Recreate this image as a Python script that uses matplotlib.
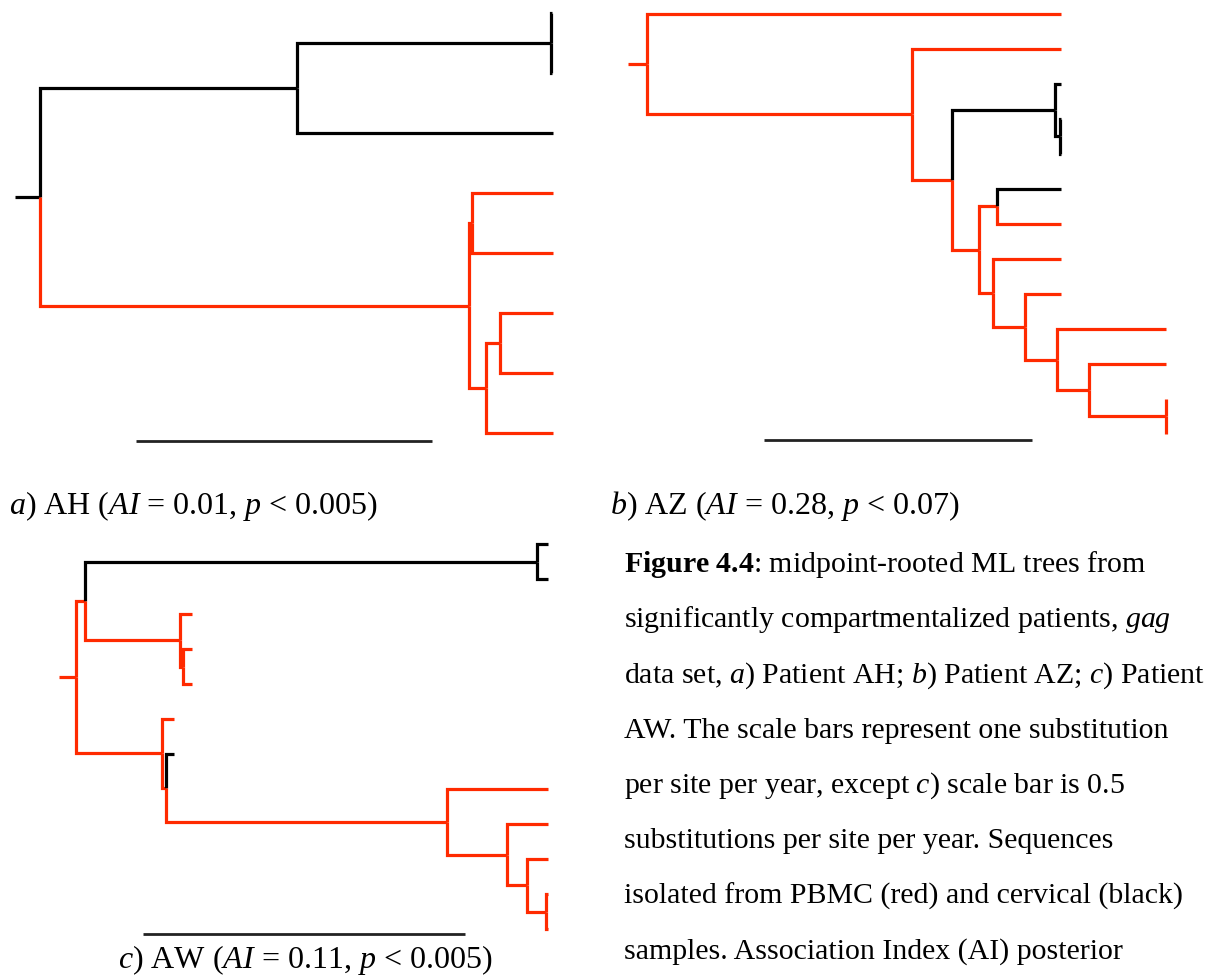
import matplotlib
matplotlib.use("Agg")
import matplotlib.pyplot as plt

# ---------------------------------------------------------------------------
# Data: midpoint-rooted ML trees (Newick). Labels: P = PBMC, C = cervical.
# Branch lengths in substitutions per site per year.
# ---------------------------------------------------------------------------
TREE_AH = ("(((C:0.005,C:0.005)C:0.858,C:0.865)C:0.868,"
           "((P:0.274,P:0.274)P:0.010,((P:0.179,P:0.179)P:0.047,P:0.226)P:0.057)P:1.449)C:0.084;")

TREE_AZ = ("(P:1.545,(P:0.556,((C:0.022,(C:0.004,C:0.004)C:0.019)C:0.384,"
           "((C:0.239,P:0.239)P:0.067,(P:0.254,(P:0.134,(P:0.407,(P:0.287,"
           "(P:0.003,P:0.003)P:0.287)P:0.119)P:0.119)P:0.119)P:0.052)P:0.101)P:0.149)P:0.989)P:0.071;")

TREE_AW = ("(((C:0.016,C:0.016)C:0.703,(P:0.019,(P:0.014,P:0.014)P:0.005)P:0.148)P:0.014,"
           "(P:0.019,(C:0.012,(P:0.157,(P:0.064,(P:0.033,(P:0.003,P:0.003)P:0.030)P:0.031)"
           "P:0.093)P:0.436)P:0.006)P:0.134)P:0.026;")

SCALE_BARS = [1.0, 1.0, 0.5]   # substitutions per site per year

LABELS = [r"$\it{a}$) AH ($\it{AI}$ = 0.01, $\it{p}$ < 0.005)",
          r"$\it{b}$) AZ ($\it{AI}$ = 0.28, $\it{p}$ < 0.07)",
          r"$\it{c}$) AW ($\it{AI}$ = 0.11, $\it{p}$ < 0.005)"]

CAPTION = [r"$\bf{Figure\ 4.4}$: midpoint-rooted ML trees from",
           r"significantly compartmentalized patients, $\it{gag}$",
           r"data set, $\it{a}$) Patient AH; $\it{b}$) Patient AZ; $\it{c}$) Patient",
           r"AW. The scale bars represent one substitution",
           r"per site per year, except $\it{c}$) scale bar is 0.5",
           r"substitutions per site per year. Sequences",
           r"isolated from PBMC (red) and cervical (black)",
           r"samples. Association Index (AI) posterior"]

COLORS = {"P": "#ff2a00", "C": "#000000"}

# ---------------------------------------------------------------------------
plt.rcParams["font.family"] = ["Liberation Serif", "DejaVu Serif"]
plt.rcParams["mathtext.fontset"] = "custom"
plt.rcParams["mathtext.rm"] = "Liberation Serif"
plt.rcParams["mathtext.it"] = "Liberation Serif:italic"
plt.rcParams["mathtext.bf"] = "Liberation Serif:bold"

W, H = 1214, 975
fig = plt.figure(figsize=(W / 100, H / 100), dpi=100)
fig.patch.set_facecolor("white")


def parse_newick(s):
    s = s.strip().rstrip(";")
    pos = 0

    def node():
        nonlocal pos
        children = []
        if s[pos] == "(":
            pos += 1
            while True:
                children.append(node())
                if s[pos] == ",":
                    pos += 1
                    continue
                if s[pos] == ")":
                    pos += 1
                    break
        start = pos
        while pos < len(s) and s[pos] not in ":,()":
            pos += 1
        label = s[start:pos].strip()
        length = 0.0
        if pos < len(s) and s[pos] == ":":
            pos += 1
            start = pos
            while pos < len(s) and s[pos] not in ",()":
                pos += 1
            length = float(s[start:pos])
        return {"label": label, "length": length, "children": children}

    return node()


def layout(tree):
    counter = [0]

    def walk(n, x0):
        n["x"] = x0 + n["length"]
        if n["children"]:
            for c in n["children"]:
                walk(c, n["x"])
            n["y"] = 0.5 * (n["children"][0]["y"] + n["children"][-1]["y"])
        else:
            n["y"] = counter[0]
            counter[0] += 1

    walk(tree, 0.0)
    return counter[0]


LW = 2.3


def draw_tree(ax, tree):
    ax.plot([0, tree["x"]], [tree["y"]] * 2, color=COLORS[tree["label"]], lw=LW,
            solid_capstyle="butt", solid_joinstyle="miter", clip_on=False)

    def walk(n):
        for c in n["children"]:
            ax.plot([n["x"], n["x"], c["x"]], [n["y"], c["y"], c["y"]],
                    color=COLORS[c["label"]], lw=LW, solid_capstyle="butt",
                    solid_joinstyle="miter", clip_on=False)
            walk(c)

    walk(tree)


# panel geometry in pixels: root-stub x, pixels per unit, first / last tip y,
# scale-bar start x and y
PANELS = [
    dict(tree=TREE_AH, x0=15, ppu=296, ytop=13, ybot=433, bar_x=136, bar_y=441),
    dict(tree=TREE_AZ, x0=628, ppu=268, ytop=14, ybot=434, bar_x=764, bar_y=440),
    dict(tree=TREE_AW, x0=59, ppu=644, ytop=544, ybot=929, bar_x=143, bar_y=934),
]

for p, bar in zip(PANELS, SCALE_BARS):
    t = parse_newick(p["tree"])
    n = layout(t)
    width_px = 560
    ax = fig.add_axes([p["x0"] / W, 1 - p["ybot"] / H, width_px / W,
                       (p["ybot"] - p["ytop"]) / H])
    ax.set_xlim(0, width_px / p["ppu"])
    ax.set_ylim(n - 1, 0)
    ax.axis("off")
    draw_tree(ax, t)
    step = (p["ybot"] - p["ytop"]) / (n - 1)
    yb = (p["bar_y"] - p["ytop"]) / step
    xb = (p["bar_x"] - p["x0"]) / p["ppu"]
    ax.plot([xb, xb + bar], [yb, yb], color="#222222", lw=2.0,
            solid_capstyle="butt", clip_on=False)


def ftext(x, y, s, size, **kw):
    fig.text(x / W, 1 - y / H, s, fontsize=size, va="baseline", **kw)


LABEL_SIZE = 23
CAPTION_SIZE = 21.5

ftext(9, 514, LABELS[0], LABEL_SIZE)
ftext(610, 514, LABELS[1], LABEL_SIZE)
ftext(305, 968, LABELS[2], LABEL_SIZE, ha="center")

for i, line in enumerate(CAPTION):
    ftext(624, 572 + i * 55.2, line, CAPTION_SIZE)

fig.savefig("out.png", dpi=100, facecolor="white")
